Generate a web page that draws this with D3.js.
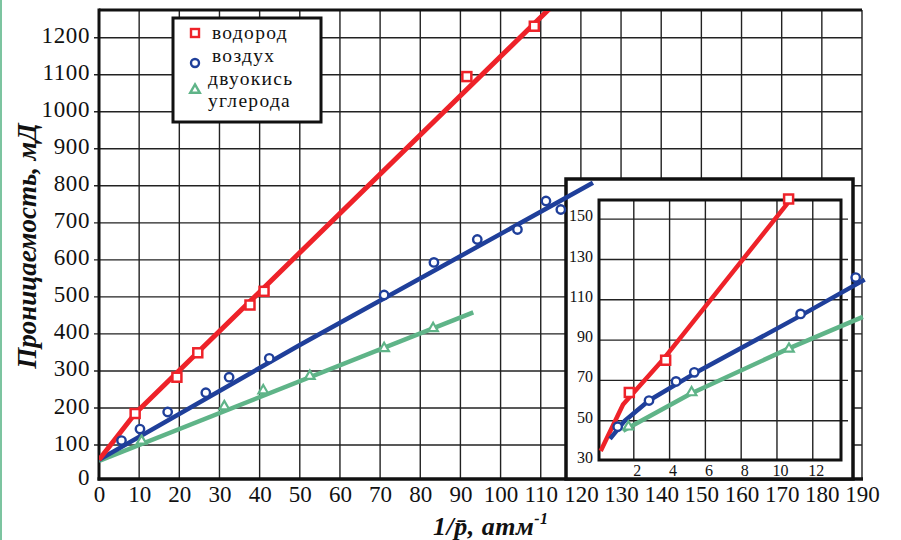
<!DOCTYPE html>
<html><head><meta charset="utf-8">
<script src="https://cdn.jsdelivr.net/npm/d3@7"></script>
</head>
<body style="margin:0">
<svg id="c" width="901" height="540" font-family="Liberation Serif"></svg>
<script>
// ---------- DATA ----------
const xTickValues = [0,10,20,30,40,50,60,70,80,90,100,110,120,130,140,150,160,170,180,190];
const yTickValues = [0,100,200,300,400,500,600,700,800,900,1000,1100,1200];
const seriesNames = ["водород","воздух","двуокись","углерода"];

const h2X = [9, 19.4, 24.6, 37.6, 41.1, 91.6, 108.4];
const h2Y = [185, 283, 349, 478, 515, 1095, 1231];
const h2FitX = [0, 9, 113];
const h2FitY = [60, 185, 1287];

const airX = [5.6, 10.2, 17.1, 26.6, 32.4, 42.4, 71, 83.4, 94.2, 104.2, 111.3, 115];
const airY = [112, 143, 189, 241, 283, 334, 505, 593, 655, 682, 759, 736];
const airFitX = [0, 50, 123];
const airFitY = [60, 370, 808];

const co2X = [10.6, 31.2, 40.9, 52.5, 71, 83.2];
const co2Y = [111, 204, 247, 286, 361, 415];
const co2FitX = [0, 93.2];
const co2FitY = [57, 458];

// inset
const inXTickValues = [2,4,6,8,10,12];
const inYTickValues = [30,50,70,90,110,130,150];
const inH2X = [1.75, 3.78, 10.65];
const inH2Y = [64, 80, 160];
const inH2FitX = [0.15, 1.4, 3.7, 10.6];
const inH2FitY = [35, 58, 81, 158];
const inAirX = [1.1, 2.85, 4.36, 5.38, 11.32, 14.4];
const inAirY = [47, 60, 69.5, 74, 103, 121];
const inAirFitX = [0.67, 1.5, 2.85, 5.4, 11.3, 14.9];
const inAirFitY = [41, 50, 60, 73.5, 102, 120];
const inCo2X = [1.7, 5.23, 10.67];
const inCo2Y = [47, 64, 85.6];
const inCo2FitX = [1.4, 5.2, 10.7, 14.8];
const inCo2FitY = [45, 63.5, 86, 101.5];

// ---------- STYLE ----------
const RED = "#ee2229", BLUE = "#1f3f9a", GREEN = "#5fb488";
const FONT = "Liberation Serif";
const svg = d3.select("#c");
const zip = (a,b) => a.map((v,i)=>[v,b[i]]);

const x = d3.scaleLinear().domain([0,190]).range([99,862]);
const y = d3.scaleLinear().domain([0,1200]).range([482,37.7]);
const topY = 10, axisY = 479;

// left decorative green line
svg.append("line").attr("x1",1).attr("x2",1).attr("y1",0).attr("y2",540)
  .attr("stroke","#7cc4a0").attr("stroke-width",2);

// grid
const grid = svg.append("g").attr("stroke","#222").attr("stroke-width",1.4);
xTickValues.slice(1).forEach(v=>{
  grid.append("line").attr("x1",x(v)).attr("x2",x(v)).attr("y1",topY).attr("y2",axisY);
});
yTickValues.slice(1).forEach(v=>{
  grid.append("line").attr("x1",x(0)-5).attr("x2",x(190)).attr("y1",y(v)).attr("y2",y(v));
});
// frame top & axes
svg.append("line").attr("x1",x(0)).attr("x2",x(190)).attr("y1",topY).attr("y2",topY)
  .attr("stroke","#111").attr("stroke-width",3);
svg.append("line").attr("x1",x(0)).attr("x2",x(0)).attr("y1",topY-1.5).attr("y2",axisY+1.5)
  .attr("stroke","#111").attr("stroke-width",3);
svg.append("line").attr("x1",x(0)-1.5).attr("x2",x(190)+1).attr("y1",axisY).attr("y2",axisY)
  .attr("stroke","#111").attr("stroke-width",3.5);

function fontify(sel, size){
  sel.attr("font-family",FONT).attr("font-size",size).attr("fill","#111")
     .style("font-family",`'${FONT}'`);
}

// axis labels via d3 axes
const yAx = svg.append("g").attr("transform",`translate(${x(0)},0)`)
  .call(d3.axisLeft(y).tickValues(yTickValues).tickSize(0).tickPadding(9).tickFormat(d3.format("d")));
yAx.attr("font-family",FONT).attr("font-size",23);
yAx.select(".domain").remove();
fontify(yAx.selectAll("text"),23);
yAx.selectAll("text").attr("dy","0.22em").attr("letter-spacing",0.6);
yAx.selectAll("text").filter(d=>d===0).attr("transform","translate(0,-3)");

const xAx = svg.append("g").attr("transform",`translate(0,${axisY})`)
  .call(d3.axisBottom(x).tickValues(xTickValues).tickSize(0).tickPadding(7).tickFormat(d3.format("d")));
xAx.attr("font-family",FONT).attr("font-size",23);
xAx.select(".domain").remove();
fontify(xAx.selectAll("text"),23);

// axis titles
const yt = svg.append("text").attr("transform","translate(36,246) rotate(-90)")
  .attr("text-anchor","middle").attr("font-weight","bold").attr("font-style","italic")
  .text("Проницаемость, мД");
fontify(yt,27);
const xt = svg.append("text").attr("x",433).attr("y",535)
  .attr("font-weight","bold").attr("font-style","italic").attr("letter-spacing",0.5);
fontify(xt,26);
xt.append("tspan").text("1/p\u0304, атм");
xt.append("tspan").attr("font-size",16).attr("dy",-11).text("-1");

// ---------- INSET ----------
const xi = d3.scaleLinear().domain([0,13.6]).range([598,841.4]);
const yi = d3.scaleLinear().domain([30,160]).range([461,199]);
svg.append("rect").attr("x",566).attr("y",179).attr("width",287).attr("height",300)
  .attr("fill","#fff").attr("stroke","#111").attr("stroke-width",3.5);
const ig = svg.append("g").attr("stroke","#222").attr("stroke-width",1.4);
inXTickValues.forEach(v=>ig.append("line").attr("x1",xi(v)).attr("x2",xi(v)).attr("y1",200).attr("y2",460));
inYTickValues.slice(1).forEach(v=>ig.append("line").attr("x1",599).attr("x2",848).attr("y1",yi(v)).attr("y2",yi(v)));
svg.append("rect").attr("x",599).attr("y",200).attr("width",242).attr("height",260)
  .attr("fill","none").attr("stroke","#111").attr("stroke-width",3);

const iyAx = svg.append("g").attr("transform","translate(599,0)")
  .call(d3.axisLeft(yi).tickValues(inYTickValues).tickSize(0).tickPadding(6));
iyAx.attr("font-family",FONT).attr("font-size",16);
iyAx.select(".domain").remove();
fontify(iyAx.selectAll("text"),16);
iyAx.selectAll("text").attr("dy","0.1em");
const ixAx = svg.append("g").attr("transform","translate(3,461)")
  .call(d3.axisBottom(xi).tickValues(inXTickValues).tickSize(0).tickPadding(4));
ixAx.attr("font-family",FONT).attr("font-size",16);
ixAx.select(".domain").remove();
fontify(ixAx.selectAll("text"),16);

const lineI = d3.line().x(d=>xi(d[0])).y(d=>yi(d[1]));
function fitI(xs,ys,col){
  svg.append("path").attr("d",lineI(zip(xs,ys))).attr("fill","none").attr("stroke",col)
    .attr("stroke-width",4.5).attr("stroke-linejoin","round");
}
fitI(inH2FitX,inH2FitY,RED);
fitI(inAirFitX,inAirFitY,BLUE);
fitI(inCo2FitX,inCo2FitY,GREEN);

// marker helpers
function squares(pts,sx,sy,s){
  svg.append("g").selectAll("rect").data(pts).join("rect")
    .attr("x",d=>sx(d[0])-s/2).attr("y",d=>sy(d[1])-s/2).attr("width",s).attr("height",s)
    .attr("fill","#fff").attr("stroke",RED).attr("stroke-width",2.5);
}
function circles(pts,sx,sy,r){
  svg.append("g").selectAll("circle").data(pts).join("circle")
    .attr("cx",d=>sx(d[0])).attr("cy",d=>sy(d[1])).attr("r",r)
    .attr("fill","#fff").attr("stroke",BLUE).attr("stroke-width",2.4);
}
const tri = d3.symbol().type(d3.symbolTriangle).size(40);
function triangles(pts,sx,sy){
  svg.append("g").selectAll("path").data(pts).join("path")
    .attr("transform",d=>`translate(${sx(d[0])},${sy(d[1])})`).attr("d",tri)
    .attr("fill","#fff").attr("stroke",GREEN).attr("stroke-width",2.2);
}
squares(zip(inH2X,inH2Y),xi,yi,9);
circles(zip(inAirX,inAirY),xi,yi,4.2);
triangles(zip(inCo2X,inCo2Y),xi,yi);

// ---------- MAIN SERIES ----------
svg.append("clipPath").attr("id","clipM").append("rect")
  .attr("x",x(0)).attr("y",topY+1).attr("width",x(190)-x(0)+10).attr("height",axisY-topY);
const lineM = d3.line().x(d=>x(d[0])).y(d=>y(d[1]));
function fitM(xs,ys,col,w){
  svg.append("path").attr("clip-path","url(#clipM)").attr("d",lineM(zip(xs,ys)))
    .attr("fill","none").attr("stroke",col).attr("stroke-width",w).attr("stroke-linejoin","round");
}
fitM(co2FitX,co2FitY,GREEN,4.5);
fitM(airFitX,airFitY,BLUE,4.5);
fitM(h2FitX,h2FitY,RED,5);
triangles(zip(co2X,co2Y),x,y);
circles(zip(airX,airY),x,y,4.2);
squares(zip(h2X,h2Y),x,y,9);

// ---------- LEGEND ----------
const lg = svg.append("g");
lg.append("rect").attr("x",173).attr("y",18).attr("width",148).attr("height",104)
  .attr("fill","#fff").attr("stroke","#111").attr("stroke-width",3);
lg.append("rect").attr("x",191).attr("y",29).attr("width",8).attr("height",8)
  .attr("fill","#fff").attr("stroke",RED).attr("stroke-width",2.4);
lg.append("circle").attr("cx",195).attr("cy",63).attr("r",4).attr("fill","#fff")
  .attr("stroke",BLUE).attr("stroke-width",2.4);
lg.append("path").attr("transform","translate(195,90)").attr("d",tri)
  .attr("fill","#fff").attr("stroke",GREEN).attr("stroke-width",2.4);
const lt = [[212,39],[212,62],[208,85],[208,107]];
seriesNames.forEach((s,i)=>{
  const t = lg.append("text").attr("x",lt[i][0]).attr("y",lt[i][1]).attr("letter-spacing",1.3).text(s);
  fontify(t,19.5);
});
</script>
</body></html>
